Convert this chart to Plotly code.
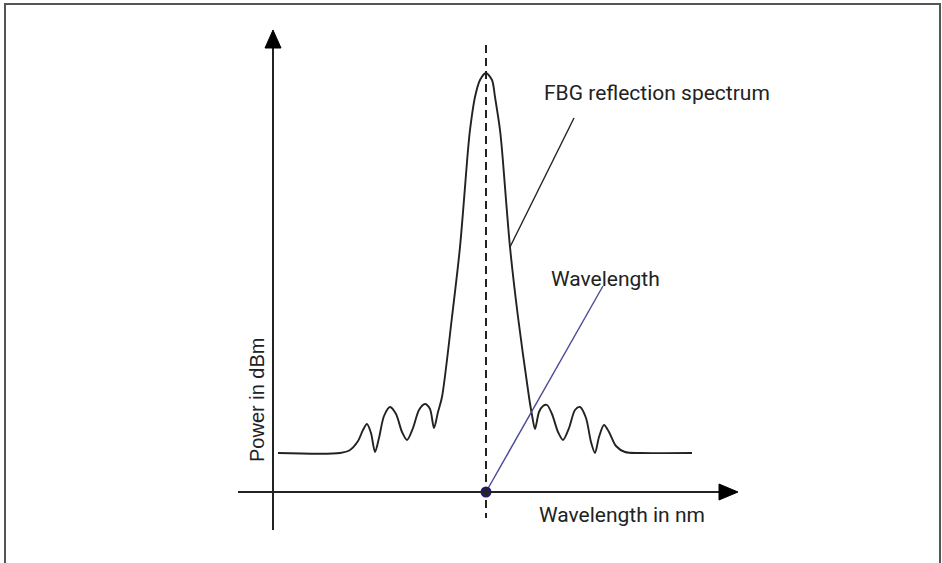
import plotly.graph_objects as go

# Spectrum (x: wavelength units from y-axis, y: power units above x-axis)
wavelength = [5, 67, 77, 85, 90, 94, 98, 102, 106, 111, 117, 123, 129, 134, 140, 146, 152, 157, 161,
              165, 169, 179, 187, 195, 197, 202, 207, 213, 219, 222, 227, 229, 237, 245, 256, 259, 262,
              266, 270, 274, 279, 285, 290, 296, 302, 307, 313, 318, 322, 326, 331, 336, 343, 352, 367, 419]
power = [39, 39, 42, 51, 62, 68, 59, 40, 54, 76, 85, 78, 60, 52, 64, 82, 88, 83, 64,
         80, 95, 175, 245, 342, 362, 395, 412, 419, 412, 395, 362, 342, 245, 175, 95, 77, 63,
         80, 86, 87, 78, 60, 52, 64, 82, 85, 74, 50, 39, 55, 67, 60, 46, 40, 39, 39]

peak_wavelength = [213]
peak_marker_power = [0]
wavelength_pointer = [213, 330]
wavelength_pointer_power = [0, 206]
spectrum_pointer = [237, 301]
spectrum_pointer_power = [245, 374]

W, H = 942, 563
ox, oy = 273, 492  # origin pixel of the drawn axes
xr = [-ox, W - ox]
yr = [oy - H, oy]

ink = "#222222"
fig = go.Figure()

fig.add_trace(go.Scatter(x=wavelength, y=power, mode="lines",
                         line=dict(color=ink, width=1.9, shape="spline", smoothing=0.8),
                         hoverinfo="skip", showlegend=False))
fig.add_trace(go.Scatter(x=wavelength_pointer, y=wavelength_pointer_power, mode="lines",
                         line=dict(color="#4a4a96", width=1.4), showlegend=False, hoverinfo="skip"))
fig.add_trace(go.Scatter(x=spectrum_pointer, y=spectrum_pointer_power, mode="lines",
                         line=dict(color=ink, width=1.4), showlegend=False, hoverinfo="skip"))
fig.add_trace(go.Scatter(x=peak_wavelength, y=peak_marker_power, mode="markers",
                         marker=dict(color="#1e1e5e", size=11), showlegend=False, hoverinfo="skip"))

shapes = [
    # axes
    dict(type="line", xref="x", yref="y", x0=-35, y0=0, x1=450, y1=0, line=dict(color=ink, width=2)),
    dict(type="line", xref="x", yref="y", x0=0, y0=-38, x1=0, y1=446, line=dict(color=ink, width=2)),
    # arrow heads
    dict(type="path", xref="x", yref="y", path="M 465 0 L 446 8 L 446 -8 Z",
         fillcolor="black", line=dict(color="black", width=1)),
    dict(type="path", xref="x", yref="y", path="M 0 462 L -8 444 L 8 444 Z",
         fillcolor="black", line=dict(color="black", width=1)),
    # dashed centre line
    dict(type="line", xref="x", yref="y", x0=213, y0=447, x1=213, y1=-26,
         line=dict(color=ink, width=2, dash="8px,5px")),
    # frame
    dict(type="path", xref="paper", yref="paper",
         path=f"M {5/W} -0.05 L {5/W} {1-4/H} L {940/W} {1-4/H} L {940/W} -0.05",
         line=dict(color="#555555", width=2)),
]

font_r = dict(family="Roboto", size=21, color=ink)
annotations = [
    dict(x=269, y=399, text="FBG reflection spectrum", xanchor="left", yanchor="middle",
         showarrow=False, font=font_r),
    dict(x=276, y=213, text="Wavelength", xanchor="left", yanchor="middle", showarrow=False, font=font_r),
    dict(x=264, y=-23, text="Wavelength in nm", xanchor="left", yanchor="middle", showarrow=False, font=font_r),
    dict(x=-16, y=92, text="Power in dBm", textangle=-90, xanchor="center", yanchor="middle",
         showarrow=False, font=dict(family="Liberation Sans", size=20, color=ink)),
]

fig.update_layout(
    width=W, height=H, margin=dict(l=0, r=0, t=0, b=0),
    paper_bgcolor="white", plot_bgcolor="white",
    xaxis=dict(range=xr, visible=False, fixedrange=True),
    yaxis=dict(range=yr, visible=False, fixedrange=True),
    shapes=shapes, annotations=annotations, showlegend=False,
)
fig.write_html("out.html")
